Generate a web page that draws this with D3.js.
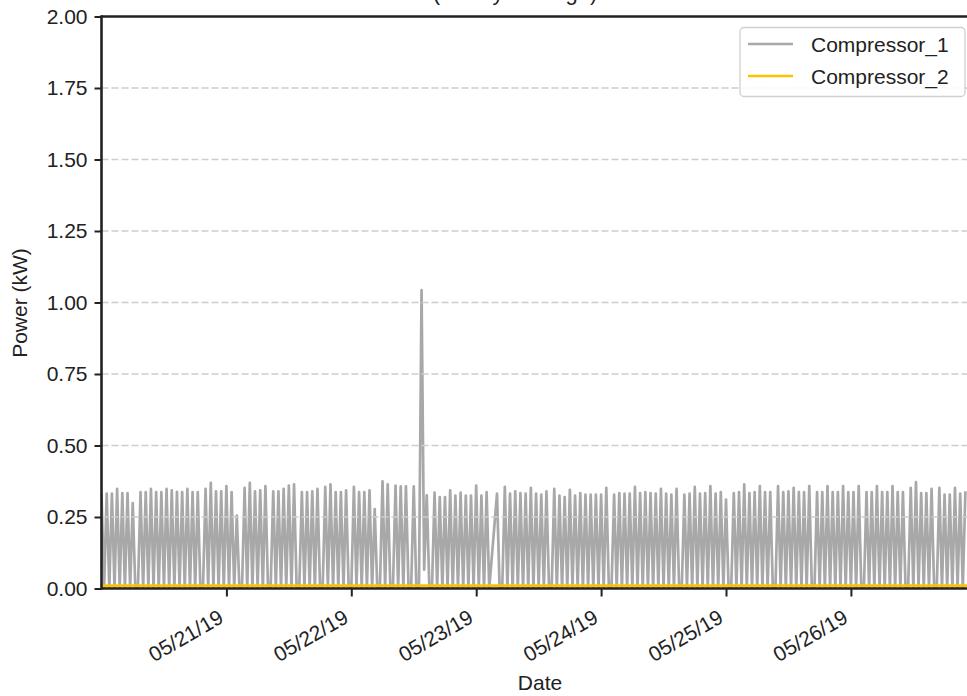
<!DOCTYPE html>
<html>
<head>
<meta charset="utf-8">
<script src="https://cdn.jsdelivr.net/npm/d3@7"></script>
<style>
  html, body { margin: 0; padding: 0; background: #fff; }
  svg { display: block; font-family: "Liberation Sans", Arial, Helvetica, sans-serif; }
</style>
</head>
<body>
<svg id="chart" width="967" height="696"></svg>
<script>
// Compressor power readings, one every 30 minutes from 05/20/19 00:00 (kW)
const seriesStart = Date.UTC(2019, 4, 20, 0, 0);
const stepMinutes = 30;
const compressor1 = [
  0.33,0,
  0.332,0, 0.332,0, 0.348,0, 0.334,0, 0.334,0, 0.299,0,0,
  0.337,0, 0.337,0, 0.348,0, 0.337,0, 0.337,0, 0.348,0, 0.343,0, 0.338,0, 0.337,0, 0.348,0, 0.337,0, 0.337,0,0,
  0.348,0, 0.369,0, 0.340,0, 0.340,0, 0.358,0, 0.337,0, 0.255,0,0,
  0.352,0, 0.369,0, 0.340,0, 0.343,0, 0.358,0,0,
  0.340,0, 0.340,0, 0.348,0, 0.360,0, 0.364,0,0,
  0.337,0, 0.337,0, 0.340,0, 0.348,0,0,
  0.355,0, 0.364,0, 0.337,0, 0.337,0, 0.343,0,0,
  0.355,0, 0.337,0, 0.337,0, 0.343,0, 0.278,0,0,
  0.375,0, 0.364,0,0,
  0.360,0, 0.357,0, 0.357,0,0,
  0.357,0,0,
  1.043,0.066, 0.326,0,0,
  0.335,0, 0.320,0, 0.320,0, 0.343,0, 0.325,0, 0.335,0, 0.325,0, 0.325,0, 0.360,0, 0.325,0, 0.337,0, 0.11,0.22,
  0.332,0,0,
  0.355,0, 0.332,0, 0.340,0, 0.334,0, 0.332,0, 0.352,0, 0.332,0, 0.328,0, 0.340,0,0,
  0.348,0, 0.325,0, 0.320,0, 0.345,0, 0.325,0, 0.334,0, 0.328,0, 0.328,0, 0.328,0, 0.328,0, 0.352,0,0,
  0.328,0, 0.334,0, 0.332,0, 0.332,0, 0.355,0, 0.334,0, 0.337,0, 0.334,0, 0.332,0, 0.348,0, 0.332,0, 0.328,0,
  0.348,0,0,
  0.328,0, 0.332,0, 0.355,0, 0.332,0, 0.334,0, 0.358,0, 0.332,0, 0.337,0, 0.311,0,0,
  0.334,0, 0.337,0, 0.364,0, 0.334,0, 0.337,0, 0.358,0, 0.337,0, 0.337,0,0,
  0.358,0, 0.337,0, 0.340,0, 0.352,0, 0.337,0, 0.337,0, 0.358,0,0,
  0.337,0, 0.337,0, 0.358,0, 0.337,0, 0.337,0, 0.358,0, 0.337,0, 0.337,0, 0.358,0,0,
  0.337,0, 0.337,0, 0.358,0, 0.337,0, 0.337,0, 0.358,0, 0.337,0, 0.337,0,0,
  0.352,0, 0.372,0, 0.334,0, 0.334,0, 0.348,0,0,
  0.352,0, 0.328,0, 0.328,0, 0.352,0, 0.332,0, 0.340
];

// Compressor_2 stays at its idle draw for the whole week (kW), one value per day
const compressor2Days = ["2019-05-20", "2019-05-21", "2019-05-22", "2019-05-23",
                         "2019-05-24", "2019-05-25", "2019-05-26", "2019-05-27", "2019-05-28"];
const compressor2 = [0.01, 0.01, 0.01, 0.01, 0.01, 0.01, 0.01, 0.01, 0.01];

const yTicks = [0, 0.25, 0.5, 0.75, 1.0, 1.25, 1.5, 1.75, 2.0];
const xTickDays = ["2019-05-21", "2019-05-22", "2019-05-23", "2019-05-24", "2019-05-25", "2019-05-26"];
const seriesNames = ["Compressor_1", "Compressor_2"];
const seriesColors = ["#a8a8a8", "#fcc200"];
const titleLine = "(Hourly Average)";

const svg = d3.select("#chart");
const plotLeft = 101.5, plotTop = 16.5, plotBottom = 588.5;
const pxPerDay = 124.9;
const domainStart = new Date(seriesStart);
const domainEnd = new Date(Date.UTC(2019, 4, 28, 0, 0));
const plotRight = plotLeft + pxPerDay * ((domainEnd - domainStart) / 86400000);

const x = d3.scaleUtc().domain([domainStart, domainEnd]).range([plotLeft, plotRight]);
const y = d3.scaleLinear().domain([0, 2]).range([plotBottom, plotTop]);

const c1Data = compressor1.map((v, i) => ({ t: new Date(seriesStart + i * stepMinutes * 60000), v }));
const c2Data = compressor2.map((v, i) => ({ t: new Date(compressor2Days[i] + "T00:00:00Z"), v }));

svg.append("defs").append("clipPath").attr("id", "plotClip")
  .append("rect").attr("x", plotLeft).attr("y", plotTop)
  .attr("width", plotRight - plotLeft).attr("height", plotBottom - plotTop);

const line = d3.line().x(d => x(d.t)).y(d => y(d.v));

const plot = svg.append("g").attr("clip-path", "url(#plotClip)");
plot.append("path").datum(c1Data)
  .attr("d", line).attr("fill", "none")
  .attr("stroke", seriesColors[0]).attr("stroke-width", 2.7).attr("stroke-linejoin", "round");
plot.append("path").datum(c2Data)
  .attr("d", line).attr("fill", "none")
  .attr("stroke", seriesColors[1]).attr("stroke-width", 2.6);

// dashed horizontal grid, drawn above the data
const grid = svg.append("g");
grid.selectAll("line").data(yTicks.filter(t => t > 0 && t < 2)).join("line")
  .attr("x1", plotLeft).attr("x2", plotRight)
  .attr("y1", d => y(d)).attr("y2", d => y(d))
  .attr("stroke", "#cdcdcd").attr("stroke-width", 1.5).attr("stroke-dasharray", "7,3");

// axes
const yAxis = d3.axisLeft(y).tickValues(yTicks).tickFormat(d3.format(".2f")).tickSize(7).tickPadding(7);
const gy = svg.append("g").attr("transform", `translate(${plotLeft},0)`).call(yAxis);
gy.select(".domain").remove();
gy.selectAll(".tick line").attr("stroke", "#222").attr("stroke-width", 2);
gy.selectAll(".tick text").attr("font-size", 21).attr("fill", "#222")
  .attr("font-family", "Liberation Sans, Arial, sans-serif");

const xAxis = d3.axisBottom(x).tickValues(xTickDays.map(d => new Date(d + "T00:00:00Z")))
  .tickFormat(d3.utcFormat("%m/%d/%y")).tickSize(8).tickPadding(0);
const gx = svg.append("g").attr("transform", `translate(0,${plotBottom})`).call(xAxis);
gx.select(".domain").remove();
gx.selectAll(".tick line").attr("stroke", "#222").attr("stroke-width", 2);
gx.selectAll(".tick text")
  .attr("font-size", 21).attr("fill", "#222")
  .attr("font-family", "Liberation Sans, Arial, sans-serif")
  .attr("text-anchor", "end")
  .attr("dy", 0).attr("y", 0)
  .attr("transform", "translate(-2,33) rotate(-30)");

// spines: left, bottom, top
const spine = svg.append("g").attr("stroke", "#222").attr("stroke-width", 2.6).attr("fill", "none");
spine.append("line").attr("x1", plotLeft).attr("x2", plotLeft).attr("y1", plotTop - 1.3).attr("y2", plotBottom + 1.3);
spine.append("line").attr("x1", plotLeft).attr("x2", plotRight).attr("y1", plotBottom).attr("y2", plotBottom);
spine.append("line").attr("x1", plotLeft).attr("x2", plotRight).attr("y1", plotTop).attr("y2", plotTop);

// last title line, mostly above the top edge
svg.append("text").attr("x", 515).attr("y", -0.5).attr("text-anchor", "middle")
  .attr("font-size", 22).attr("fill", "#222").text(titleLine);

// axis titles
svg.append("text").attr("x", 540).attr("y", 690).attr("text-anchor", "middle")
  .attr("font-size", 21).attr("fill", "#222").text("Date");
svg.append("text").attr("transform", "translate(27,303) rotate(-90)").attr("text-anchor", "middle")
  .attr("font-size", 21).attr("fill", "#222").text("Power (kW)");

// legend
const lg = svg.append("g");
lg.append("rect").attr("x", 740).attr("y", 27.5).attr("width", 225).attr("height", 69)
  .attr("rx", 4).attr("fill", "#fff").attr("fill-opacity", 0.85)
  .attr("stroke", "#d0d0d0").attr("stroke-width", 1.3);
seriesNames.forEach((name, i) => {
  const cy = 44 + i * 32;
  lg.append("line").attr("x1", 748).attr("x2", 793).attr("y1", cy).attr("y2", cy)
    .attr("stroke", seriesColors[i]).attr("stroke-width", 2.6);
  lg.append("text").attr("x", 811).attr("y", cy + 7.5).attr("font-size", 21).attr("fill", "#222").text(name);
});
</script>
</body>
</html>
